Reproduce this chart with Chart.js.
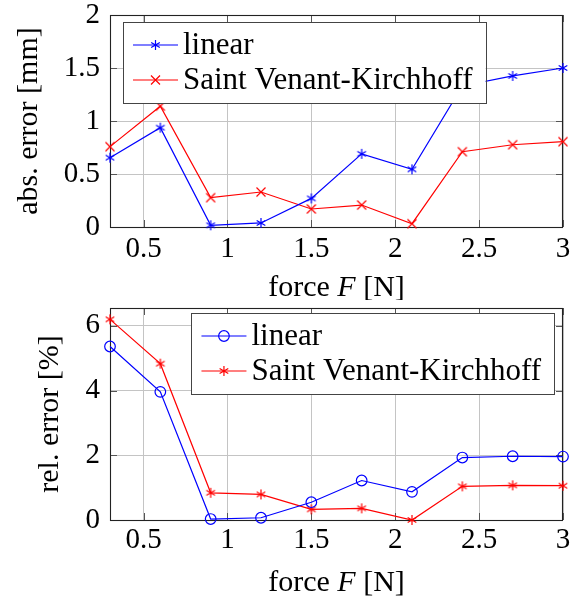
<!DOCTYPE html>
<html><head><meta charset="utf-8">
<script src="https://cdn.jsdelivr.net/npm/chart.js@4.4.0/dist/chart.umd.min.js"></script>
<style>
html,body{margin:0;padding:0;background:#fff;}
canvas{position:absolute;left:0;display:block;}
</style></head><body>
<canvas id="c1" width="584" height="300" style="top:0px"></canvas>
<canvas id="c2" width="584" height="302" style="top:300px"></canvas>
<script>
const forces = [0.3, 0.6, 0.9, 1.2, 1.5, 1.8, 2.1, 2.4, 2.7, 3.0];
const absLinear = [0.654, 0.937, 0.016, 0.038, 0.27, 0.69, 0.544, 1.33, 1.425, 1.5];
const absSVK = [0.758, 1.14, 0.277, 0.33, 0.17, 0.207, 0.031, 0.71, 0.776, 0.805];
const relLinear = [5.36, 3.96, 0.03, 0.07, 0.55, 1.22, 0.87, 1.93, 1.97, 1.96];
const relSVK = [6.2, 4.83, 0.84, 0.79, 0.33, 0.36, 0.0, 1.04, 1.07, 1.06];
const xTicks = [0.5, 1, 1.5, 2, 2.5, 3];
const absTicks = [0, 0.5, 1, 1.5, 2];
const relTicks = [0, 2, 4, 6];
const seriesNames = ['linear', 'Saint Venant-Kirchhoff'];
const xTitleParts = [['force ', false], ['F', true], [' [N]', false]];
const absTitle = 'abs. error [mm]';
const relTitle = 'rel. error [%]';

const SERIF = "'Liberation Serif', 'DejaVu Serif', serif";
const BLUE = '#0000ff', RED = '#ff0000';

function drawMark(ctx, kind, x, y, color) {
  ctx.save();
  ctx.strokeStyle = color; ctx.lineWidth = 1.2;
  ctx.beginPath();
  if (kind === 'asterisk') {
    const r = 5;
    [90, 30, -30].forEach(a => {
      const t = a * Math.PI / 180;
      ctx.moveTo(x - r * Math.cos(t), y - r * Math.sin(t));
      ctx.lineTo(x + r * Math.cos(t), y + r * Math.sin(t));
    });
  } else if (kind === 'x') {
    const r = 4.5;
    ctx.moveTo(x - r, y - r); ctx.lineTo(x + r, y + r);
    ctx.moveTo(x - r, y + r); ctx.lineTo(x + r, y - r);
  } else if (kind === 'circle') {
    ctx.arc(x, y, 5.3, 0, Math.PI * 2);
  }
  ctx.stroke();
  ctx.restore();
}
function markCanvas(kind, color) {
  const c = document.createElement('canvas');
  c.width = 14; c.height = 14;
  drawMark(c.getContext('2d'), kind, 7, 7, color);
  return c;
}

function fitScale(h, w) {
  return s => {
    if (h !== undefined) s.height = h;
    if (w !== undefined) s.width = w;
    s.paddingTop = 0; s.paddingBottom = 0; s.paddingLeft = 0; s.paddingRight = 0;
  };
}

function makeChart(id, cfg) {
  const deco = {
    id: 'deco',
    beforeDatasetsDraw(chart) {
      const {ctx, chartArea: a, scales: {x, y}} = chart;
      ctx.save();
      ctx.strokeStyle = '#555'; ctx.lineWidth = 1;
      ctx.beginPath();
      xTicks.forEach(v => {
        const px = Math.round(x.getPixelForValue(v)) + 0.5;
        ctx.moveTo(px, a.bottom); ctx.lineTo(px, a.bottom - 7);
        ctx.moveTo(px, a.top); ctx.lineTo(px, a.top + 7);
      });
      cfg.yTicks.forEach(v => {
        const py = Math.round(y.getPixelForValue(v)) + 0.5;
        ctx.moveTo(a.left, py); ctx.lineTo(a.left + 7, py);
        ctx.moveTo(a.right, py); ctx.lineTo(a.right - 7, py);
      });
      ctx.stroke();
      ctx.strokeStyle = '#222'; ctx.lineWidth = 1.1;
      ctx.strokeRect(Math.round(a.left) + 0.5, Math.round(a.top) + 0.5,
        Math.round(a.right - a.left) - 1, Math.round(a.bottom - a.top));
      ctx.restore();
    },
    afterDraw(chart) {
      const {ctx, chartArea: a} = chart;
      ctx.save();
      // legend
      ctx.font = '31px ' + SERIF;
      const tw = Math.max(...chart.data.datasets.map(d => ctx.measureText(d.label).width));
      const bw = 10 + 45 + 5 + tw + 13, bh = 81;
      const bx = cfg.legendPos === 'nw' ? a.left + 13 : a.right - 9 - bw;
      const by = a.top + cfg.legendTop;
      ctx.fillStyle = '#fff';
      ctx.fillRect(bx, by, bw, bh);
      ctx.strokeStyle = '#444'; ctx.lineWidth = 1;
      ctx.strokeRect(Math.round(bx) + 0.5, Math.round(by) + 0.5, Math.round(bw), Math.round(bh));
      chart.data.datasets.forEach((d, i) => {
        const cy = by + 23 + i * 35;
        ctx.strokeStyle = d.borderColor; ctx.lineWidth = 1.2;
        ctx.beginPath(); ctx.moveTo(bx + 10, cy); ctx.lineTo(bx + 55, cy); ctx.stroke();
        drawMark(ctx, cfg.marks[i], bx + 32.5, cy, d.borderColor);
        ctx.fillStyle = '#000'; ctx.textAlign = 'left'; ctx.textBaseline = 'middle';
        ctx.fillText(d.label, bx + 60, cy + 1);
      });
      // x title
      ctx.fillStyle = '#000'; ctx.textBaseline = 'middle';
      const parts = xTitleParts.map(([t, it]) => {
        ctx.font = (it ? 'italic ' : '') + '30px ' + SERIF;
        return {t, it, w: ctx.measureText(t).width};
      });
      const tot = parts.reduce((s, p) => s + p.w, 0);
      let px = (a.left + a.right) / 2 - tot / 2;
      const ty = a.bottom + cfg.xTitleOff;
      ctx.textAlign = 'left';
      parts.forEach(p => {
        ctx.font = (p.it ? 'italic ' : '') + '30px ' + SERIF;
        ctx.fillText(p.t, px, ty);
        px += p.w;
      });
      // y title
      ctx.font = '29px ' + SERIF;
      const widest = Math.max(...cfg.yTicks.map(v => ctx.measureText(String(v)).width));
      const yx = a.left - 10 - widest - 35;
      ctx.font = '30px ' + SERIF;
      ctx.translate(yx, (a.top + a.bottom) / 2);
      ctx.rotate(-Math.PI / 2);
      ctx.textAlign = 'center';
      ctx.fillText(cfg.yTitle, 0, 0);
      ctx.restore();
    }
  };
  const tickFont = {family: SERIF, size: 29, lineHeight: 1.0};
  return new Chart(document.getElementById(id), {
    type: 'line',
    data: {
      datasets: cfg.series.map((s, i) => ({
        label: seriesNames[i],
        data: forces.map((f, j) => ({x: f, y: s[j]})),
        borderColor: cfg.colors[i],
        backgroundColor: 'transparent',
        borderWidth: 1.2,
        pointStyle: cfg.marks[i] === 'circle' ? 'circle' : markCanvas(cfg.marks[i], cfg.colors[i]),
        pointRadius: 5.3,
        pointBorderColor: cfg.colors[i],
        pointBackgroundColor: 'transparent',
        pointBorderWidth: 1.2,
        tension: 0,
        clip: false
      }))
    },
    options: {
      responsive: false,
      animation: false,
      layout: {padding: {left: 0, right: 21, top: cfg.top, bottom: 0}},
      plugins: {legend: {display: false}, tooltip: {enabled: false}},
      scales: {
        x: {
          type: 'linear', min: 0.3, max: 3,
          afterBuildTicks: s => { s.ticks = xTicks.map(v => ({value: v})); },
          afterFit: fitScale(cfg.xh, undefined),
          grid: {color: '#c4c4c4', lineWidth: 1, drawTicks: false},
          border: {display: false},
          ticks: {padding: cfg.xpad, font: tickFont, color: '#000', maxRotation: 0, autoSkip: false, callback: v => String(v)}
        },
        y: {
          type: 'linear', min: cfg.ymin, max: cfg.ymax,
          afterBuildTicks: s => { s.ticks = cfg.yTicks.map(v => ({value: v})); },
          afterFit: fitScale(undefined, 110),
          grid: {color: '#c4c4c4', lineWidth: 1, drawTicks: false},
          border: {display: false},
          ticks: {padding: 10, font: tickFont, color: '#000', autoSkip: false, callback: v => String(v)}
        }
      }
    },
    plugins: [deco]
  });
}

makeChart('c1', {
  series: [absLinear, absSVK], colors: [BLUE, RED], marks: ['asterisk', 'x'],
  yTicks: absTicks, ymin: 0, ymax: 2, top: 15, xh: 73, xpad: 8,
  legendPos: 'nw', legendTop: 7, yTitle: absTitle, xTitleOff: 61
});
makeChart('c2', {
  series: [relLinear, relSVK], colors: [BLUE, RED], marks: ['circle', 'asterisk'],
  yTicks: relTicks, ymin: 0, ymax: 6.55, top: 8, xh: 82, xpad: 6,
  legendPos: 'ne', legendTop: 5, yTitle: relTitle, xTitleOff: 63
});
</script>
</body></html>
